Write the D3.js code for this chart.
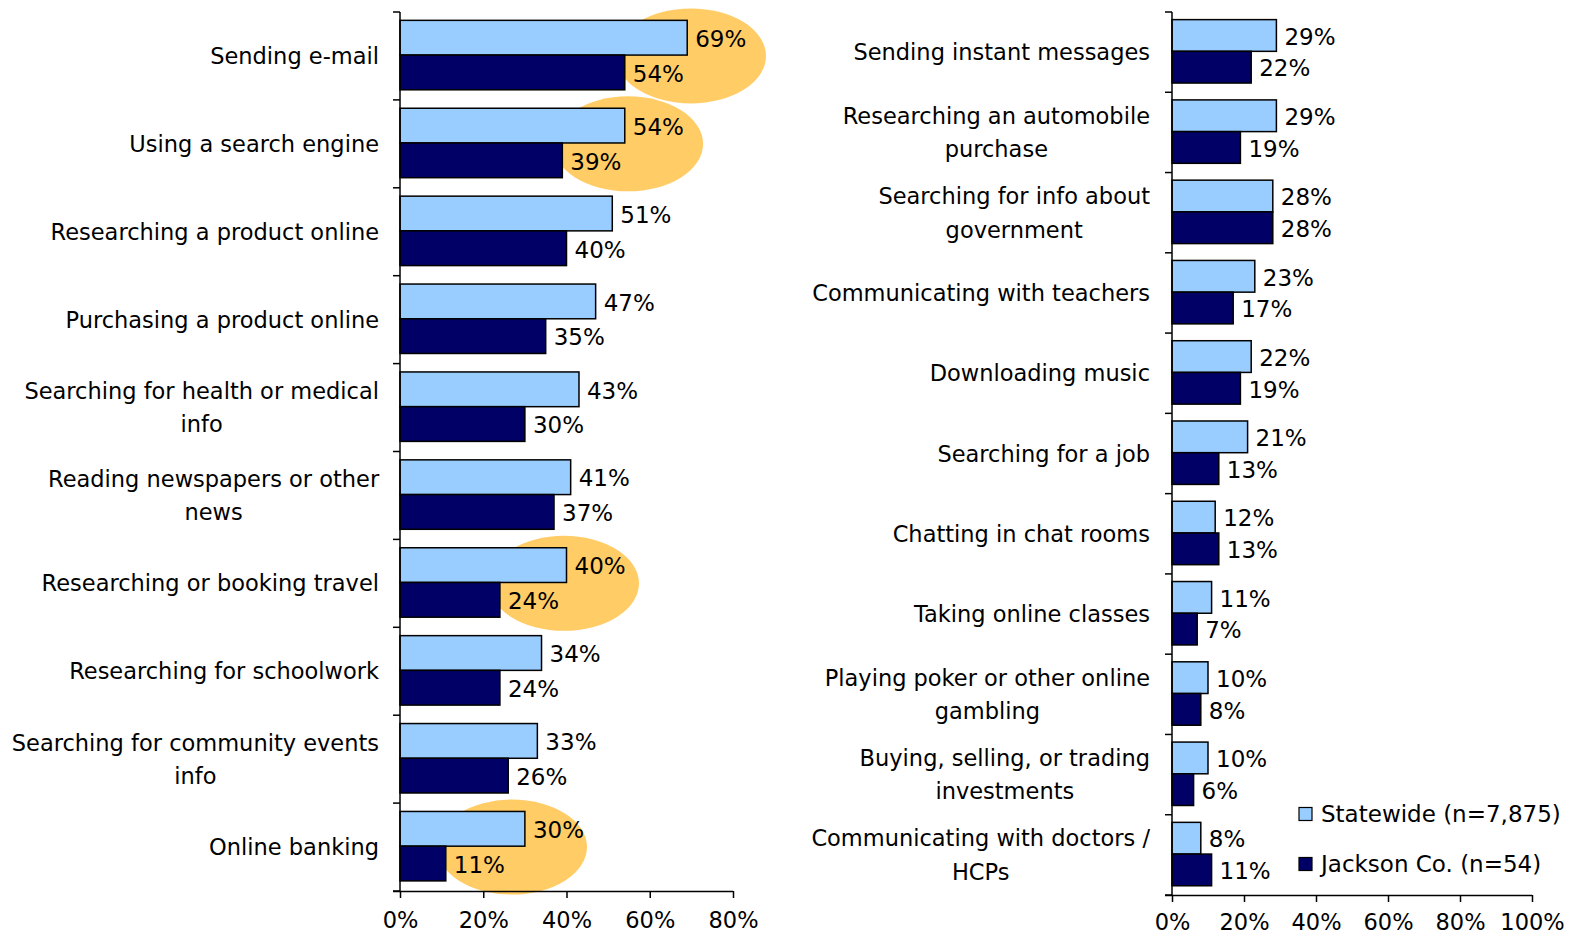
<!DOCTYPE html>
<html><head><meta charset="utf-8">
<script src="https://cdn.jsdelivr.net/npm/d3@7"></script>
<style>
html,body{margin:0;padding:0;background:#fff;}
svg text{font-family:"DejaVu Sans",sans-serif;fill:#000;}
</style></head>
<body>
<svg id="chart" width="1574" height="935"></svg>
<script>
// ---------- data ----------
const leftCategories = [
  "Sending e-mail", "Using a search engine", "Researching a product online",
  "Purchasing a product online", "Searching for health or medical|info",
  "Reading newspapers or other|news", "Researching or booking travel",
  "Researching for schoolwork", "Searching for community events|info", "Online banking"
];
const leftStatewide = [69, 54, 51, 47, 43, 41, 40, 34, 33, 30];
const leftJackson   = [54, 39, 40, 35, 30, 37, 24, 24, 26, 11];

const rightCategories = [
  "Sending instant messages", "Researching an automobile|purchase",
  "Searching for info about|government", "Communicating with teachers",
  "Downloading music", "Searching for a job", "Chatting in chat rooms",
  "Taking online classes", "Playing poker or other online|gambling",
  "Buying, selling, or trading|investments", "Communicating with doctors /|HCPs"
];
const rightStatewide = [29, 29, 28, 23, 22, 21, 12, 11, 10, 10, 8];
const rightJackson   = [22, 19, 28, 17, 19, 13, 13, 7, 8, 6, 11];

const leftTicks = [0, 20, 40, 60, 80];
const rightTicks = [0, 20, 40, 60, 80, 100];

// highlighted categories (ellipse centre along the value axis, in %)
const highlightCategories = ["Sending e-mail", "Using a search engine", "Researching or booking travel", "Online banking"];
const highlightCenters = [69.9, 54.8, 39.4, 26.9];

const seriesNames = ["Statewide (n=7,875)", "Jackson Co. (n=54)"];
const seriesColors = ["#99CCFF", "#000066"];

// ---------- drawing ----------
const svg = d3.select("#chart");
const FS = 23, FSC = 22.5;

function panel(opts) {
  const { cats, s1, s2, ticks, x0, x1, y0, y1, labelRight, tickLabelY, highlights } = opts;
  const x = d3.scaleLinear().domain([ticks[0], ticks[ticks.length - 1]]).range([x0, x1]);
  const y = d3.scaleBand().domain(cats).range([y0, y1]).paddingInner(0).paddingOuter(0);
  const bw = y.bandwidth();
  const off = bw * 0.095, bh = bw * 0.395;
  const g = svg.append("g");

  // ellipses behind bars
  if (highlights) {
    highlights.forEach(h => {
      g.append("ellipse")
        .attr("cx", x(h.v)).attr("cy", y(h.cat) + bw / 2)
        .attr("rx", 75).attr("ry", 47.5)
        .attr("fill", "#FFCC66");
    });
  }

  const rows = cats.map((c, i) => ({ c, a: s1[i], b: s2[i] }));
  const rg = g.selectAll("g.row").data(rows).join("g").attr("class", "row");

  rg.append("rect")
    .attr("x", x(0)).attr("y", d => y(d.c) + off)
    .attr("width", d => x(d.a) - x(0)).attr("height", bh)
    .attr("fill", seriesColors[0]).attr("stroke", "#000").attr("stroke-width", 1.5);
  rg.append("rect")
    .attr("x", x(0)).attr("y", d => y(d.c) + off + bh)
    .attr("width", d => x(d.b) - x(0)).attr("height", bh)
    .attr("fill", seriesColors[1]).attr("stroke", "#000").attr("stroke-width", 1.5);

  rg.append("text")
    .attr("x", d => x(d.a) + 8).attr("y", d => y(d.c) + off + bh / 2 + 1)
    .attr("dy", "0.36em").attr("font-size", FS).text(d => d.a + "%");
  rg.append("text")
    .attr("x", d => x(d.b) + 8).attr("y", d => y(d.c) + off + bh * 1.5 + 1)
    .attr("dy", "0.36em").attr("font-size", FS).text(d => d.b + "%");

  // category labels (wrapped, centred block right-aligned)
  rg.each(function (d) {
    const lines = d.c.split("|");
    const t = d3.select(this).append("text").attr("font-size", FSC).attr("text-anchor", "middle");
    const spans = lines.map(l => t.append("tspan").text(l));
    let maxW = 0;
    spans.forEach(s => { maxW = Math.max(maxW, s.node().getComputedTextLength()); });
    const cx = labelRight - maxW / 2;
    const lh = 33.5;
    const cy = y(d.c) + bw / 2;
    spans.forEach((s, i) => {
      s.attr("x", cx).attr("y", cy + (i - (lines.length - 1) / 2) * lh).attr("dy", "0.36em");
    });
  });

  // value axis
  const ax = d3.axisBottom(x).tickValues(ticks).tickFormat(d => d + "%").tickSize(7).tickPadding(10);
  const axg = g.append("g").attr("transform", `translate(0,${y1})`).call(ax);
  axg.select(".domain").attr("stroke", "#000").attr("stroke-width", 1.5).attr("d", `M${x0 - 7},0.5H${x1}`);
  axg.selectAll(".tick line").attr("stroke", "#000").attr("stroke-width", 1.5);
  axg.selectAll(".tick text").attr("font-size", FSC).attr("font-family", null).attr("y", tickLabelY - y1).attr("dy", "0.36em");

  // category axis
  g.append("line").attr("x1", x0).attr("x2", x0).attr("y1", y0).attr("y2", y1)
    .attr("stroke", "#000").attr("stroke-width", 1.5);
  const bounds = cats.map(c => y(c)).concat([y1]);
  g.selectAll("line.ct").data(bounds).join("line").attr("class", "ct")
    .attr("x1", x0 - 7).attr("x2", x0).attr("y1", d => d).attr("y2", d => d)
    .attr("stroke", "#000").attr("stroke-width", 1.5);
}

panel({
  cats: leftCategories, s1: leftStatewide, s2: leftJackson, ticks: leftTicks,
  x0: 400, x1: 733, y0: 12, y1: 891, labelRight: 379, tickLabelY: 920,
  highlights: highlightCategories.map((c, i) => ({ cat: c, v: highlightCenters[i] }))
});
panel({
  cats: rightCategories, s1: rightStatewide, s2: rightJackson, ticks: rightTicks,
  x0: 1172, x1: 1532, y0: 12, y1: 895, labelRight: 1150, tickLabelY: 922
});

// legend
const lg = svg.append("g");
seriesNames.forEach((n, i) => {
  const yy = 814 + i * 50;
  lg.append("rect").attr("x", 1299).attr("y", yy - 6.5).attr("width", 13).attr("height", 13)
    .attr("fill", seriesColors[i]).attr("stroke", "#000").attr("stroke-width", 1.2);
  lg.append("text").attr("x", 1321).attr("y", yy).attr("dy", "0.36em").attr("font-size", FS).text(n);
});
</script>
</body></html>
